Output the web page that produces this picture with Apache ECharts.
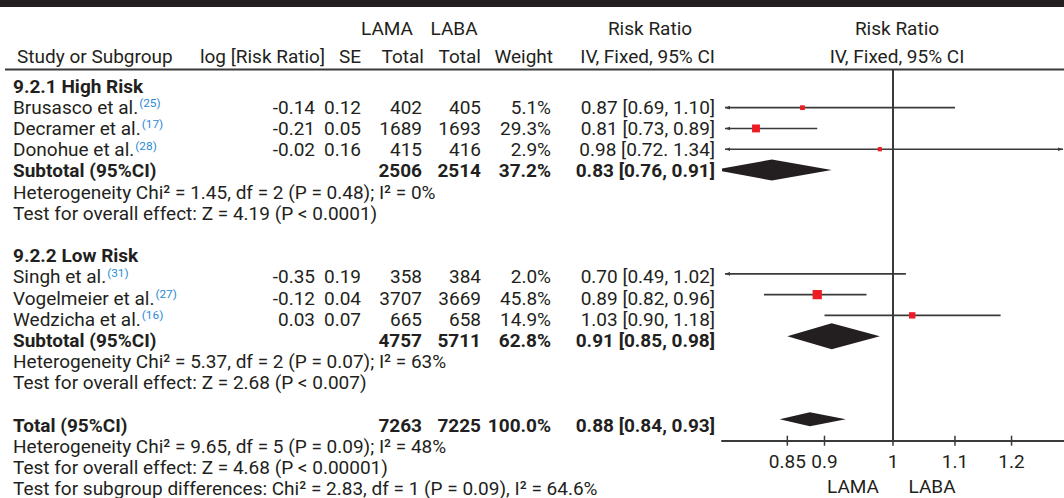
<!DOCTYPE html>
<html><head><meta charset="utf-8">
<script src="https://cdn.jsdelivr.net/npm/echarts@6/dist/echarts.min.js"></script>
<style>html,body{margin:0;padding:0;background:#fff}#c{width:1064px;height:498px}</style>
</head><body><div id="c"></div>
<script>
// ---------------- DATA ----------------
const studyNames = ['Brusasco et al.', 'Decramer et al.', 'Donohue et al.', 'Singh et al.', 'Vogelmeier et al.', 'Wedzicha et al.'];
const studyRefs = ['(25)', '(17)', '(28)', '(31)', '(27)', '(16)'];
const studyGroup = [0, 0, 0, 1, 1, 1];
const logRR = [-0.14, -0.21, -0.02, -0.35, -0.12, 0.03];
const seVals = [0.12, 0.05, 0.16, 0.19, 0.04, 0.07];
const lamaTotals = [402, 1689, 415, 358, 3707, 665];
const labaTotals = [405, 1693, 416, 384, 3669, 658];
const weights = [5.1, 29.3, 2.9, 2.0, 45.8, 14.9];
const riskRatio = [0.87, 0.81, 0.98, 0.70, 0.89, 1.03];
const ciLow = [0.69, 0.73, 0.72, 0.49, 0.82, 0.90];
const ciHigh = [1.10, 0.89, 1.34, 1.02, 0.96, 1.18];
const ciSep = [', ', ', ', '. ', ', ', ', ', ', '];

const groupNames = ['9.2.1 High Risk', '9.2.2 Low Risk'];
const groupLama = [2506, 4757];
const groupLaba = [2514, 5711];
const groupWeight = [37.2, 62.8];
const groupRR = [0.83, 0.91];
const groupLow = [0.76, 0.85];
const groupHigh = [0.91, 0.98];
const groupHet = ['Heterogeneity Chi² = 1.45, df = 2 (P = 0.48); I² = 0%', 'Heterogeneity Chi² = 5.37, df = 2 (P = 0.07); I² = 63%'];
const groupTest = ['Test for overall effect: Z = 4.19 (P < 0.0001)', 'Test for overall effect: Z = 2.68 (P < 0.007)'];

const totalLama = 7263, totalLaba = 7225, totalWeight = 100.0;
const totalRR = 0.88, totalLow = 0.84, totalHigh = 0.93;
const totalHet = 'Heterogeneity Chi² = 9.65, df = 5 (P = 0.09); I² = 48%';
const totalTest = 'Test for overall effect: Z = 4.68 (P < 0.00001)';
const subgroupTest = 'Test for subgroup differences: Chi² = 2.83, df = 1 (P = 0.09), I² = 64.6%';

const tickValues = [0.85, 0.9, 1, 1.1, 1.2];
const favourLabels = ['LAMA', 'LABA'];

// ---------------- STYLE / LAYOUT ----------------
const FF = 'Roboto';
const TEXT = '#231f20';
const LINE = '#3a3a3a';
const RED = '#ed1c24';
const BLUE = '#2a8bd8';
const COL = { name: 13, logrr: 315, se: 361, lama: 422, laba: 481, weight: 551, ci: 715 };
const AX_MIN = -0.263, AX_MAX = 0.263;
const Y_MIN = -0.8137, Y_MAX = 17.034;
const diamondHalf = [10.5, 13, 7];

const mctx = document.createElement('canvas').getContext('2d');
mctx.font = '100px ' + FF;
let FS = 585 / (mctx.measureText(subgroupTest).width / 100);
FS = Math.max(13, Math.min(19, FS));
const fontN = FS.toFixed(2) + 'px ' + FF;
const fontB = 'bold ' + FS.toFixed(2) + 'px ' + FF;
const fontS = (FS * 0.62).toFixed(1) + 'px ' + FF;
function textW(t, f) { mctx.font = f; return mctx.measureText(t).width; }

const f2 = v => v.toFixed(2);
const fmtCI = (rr, lo, hi, sep) => f2(rr) + ' [' + f2(lo) + (sep || ', ') + f2(hi) + ']';

// ---------------- TABLE ROWS ----------------
const tableRows = [];
const studyRow = [], groupRow = [];
let r = 0;
groupNames.forEach((g, gi) => {
  tableRows.push({ row: r++, cells: [{ t: g, x: COL.name, a: 'left', f: fontB }] });
  studyNames.forEach((s, i) => {
    if (studyGroup[i] !== gi) return;
    studyRow[i] = r;
    const w = textW(s, fontN);
    tableRows.push({ row: r++, cells: [
      { t: s, x: COL.name, a: 'left', f: fontN },
      { t: studyRefs[i], x: COL.name, dx: w + 1, dy: -4, a: 'left', f: fontS, c: BLUE },
      { t: f2(logRR[i]), x: COL.logrr, a: 'right', f: fontN },
      { t: f2(seVals[i]), x: COL.se, a: 'right', f: fontN },
      { t: String(lamaTotals[i]), x: COL.lama, a: 'right', f: fontN },
      { t: String(labaTotals[i]), x: COL.laba, a: 'right', f: fontN },
      { t: weights[i].toFixed(1) + '%', x: COL.weight, a: 'right', f: fontN },
      { t: fmtCI(riskRatio[i], ciLow[i], ciHigh[i], ciSep[i]), x: COL.ci, a: 'right', f: fontN }
    ] });
  });
  groupRow[gi] = r;
  tableRows.push({ row: r++, cells: [
    { t: 'Subtotal (95%CI)', x: COL.name, a: 'left', f: fontB },
    { t: String(groupLama[gi]), x: COL.lama, a: 'right', f: fontB },
    { t: String(groupLaba[gi]), x: COL.laba, a: 'right', f: fontB },
    { t: groupWeight[gi].toFixed(1) + '%', x: COL.weight, a: 'right', f: fontB },
    { t: fmtCI(groupRR[gi], groupLow[gi], groupHigh[gi]), x: COL.ci, a: 'right', f: fontB }
  ] });
  tableRows.push({ row: r++, cells: [{ t: groupHet[gi], x: COL.name, a: 'left', f: fontN }] });
  tableRows.push({ row: r++, cells: [{ t: groupTest[gi], x: COL.name, a: 'left', f: fontN }] });
  r++;
});
const totalRow = r;
tableRows.push({ row: r++, cells: [
  { t: 'Total (95%CI)', x: COL.name, a: 'left', f: fontB },
  { t: String(totalLama), x: COL.lama, a: 'right', f: fontB },
  { t: String(totalLaba), x: COL.laba, a: 'right', f: fontB },
  { t: totalWeight.toFixed(1) + '%', x: COL.weight, a: 'right', f: fontB },
  { t: fmtCI(totalRR, totalLow, totalHigh), x: COL.ci, a: 'right', f: fontB }
] });
tableRows.push({ row: r++, cells: [{ t: totalHet, x: COL.name, a: 'left', f: fontN }] });
tableRows.push({ row: r++, cells: [{ t: totalTest, x: COL.name, dy: -0.5, a: 'left', f: fontN }] });
tableRows.push({ row: r++, cells: [{ t: subgroupTest, x: COL.name, dy: -0.8, a: 'left', f: fontN }] });

// ---------------- PLOT DATA ----------------
const studyData = studyNames.map((s, i) => [Math.log(riskRatio[i]), studyRow[i], Math.log(ciLow[i]), Math.log(ciHigh[i]), weights[i]]);
const diamondData = [
  [Math.log(groupRR[0]), groupRow[0], Math.log(groupLow[0]), Math.log(groupHigh[0]), 0],
  [Math.log(groupRR[1]), groupRow[1], Math.log(groupLow[1]), Math.log(groupHigh[1]), 1],
  [Math.log(totalRR), totalRow, Math.log(totalLow), Math.log(totalHigh), 2]
];

// ---------------- CHART ----------------
const chart = echarts.init(document.getElementById('c'), null, { renderer: 'svg' });

const hdr = (t, x, y, align, bold) => ({ type: 'text', x: x, y: y, style: { text: t, align: align, verticalAlign: 'middle', font: (bold ? fontB : fontN), fill: TEXT } });

const option = {
  animation: false,
  grid: [
    { left: 722, width: 342, top: 70, height: 370.7 },
    { left: 0, width: 1064, top: 86, height: 402.8 }
  ],
  xAxis: [
    { gridIndex: 0, type: 'value', min: AX_MIN, max: AX_MAX, position: 'bottom',
      splitLine: { show: false },
      axisLine: { show: true, onZero: false, lineStyle: { color: LINE, width: 2 } },
      axisTick: { show: false },
      axisLabel: { show: true, margin: 11, color: TEXT, fontSize: FS, fontFamily: FF,
        customValues: tickValues.map(v => Math.log(v)),
        formatter: v => String(parseFloat(Math.exp(v).toFixed(2))) } },
    { gridIndex: 1, type: 'value', min: 0, max: 1064, show: false }
  ],
  yAxis: [
    { gridIndex: 0, type: 'value', min: Y_MIN, max: Y_MAX, inverse: true, show: false },
    { gridIndex: 1, type: 'value', min: 0, max: 19, inverse: true, show: false }
  ],
  graphic: [
    { type: 'rect', shape: { x: 0, y: 0, width: 1064, height: 7 }, style: { fill: TEXT } },
    { type: 'line', shape: { x1: 5, y1: 69.5, x2: 1064, y2: 69.5 }, style: { stroke: LINE, lineWidth: 2 } },
    hdr('LAMA', 387, 28, 'center'),
    hdr('LABA', 454, 28, 'center'),
    hdr('Risk Ratio', 650, 28, 'center'),
    hdr('Risk Ratio', 897, 28, 'center'),
    hdr('Study or Subgroup', 17, 56, 'left'),
    hdr('log [Risk Ratio]', 325, 56, 'right'),
    hdr('SE', 361, 56, 'right'),
    hdr('Total', 424, 56, 'right'),
    hdr('Total', 481, 56, 'right'),
    hdr('Weight', 553, 56, 'right'),
    hdr('IV, Fixed, 95% CI', 715, 56, 'right'),
    hdr('IV, Fixed, 95% CI', 897, 56, 'center'),
    hdr(favourLabels[0], 853, 486, 'center'),
    hdr(favourLabels[1], 932, 486, 'center')
  ],
  series: [
    { type: 'custom', name: 'table', xAxisIndex: 1, yAxisIndex: 1, silent: true,
      data: tableRows.map(t => [0, t.row]),
      renderItem: function (params, api) {
        const row = tableRows[params.dataIndex];
        const y = api.coord([0, row.row])[1];
        return { type: 'group', children: row.cells.map(c => ({
          type: 'text',
          style: { text: c.t, x: api.coord([c.x, row.row])[0] + (c.dx || 0), y: y + (c.dy || 0),
            align: c.a, verticalAlign: 'middle', font: c.f, fill: c.c || TEXT }
        })) };
      } },
    { type: 'custom', name: 'ticks', xAxisIndex: 0, yAxisIndex: 0, silent: true,
      data: tickValues.map(v => [Math.log(v)]),
      renderItem: function (params, api) {
        const p = api.coord([api.value(0), Y_MAX]);
        return { type: 'line', shape: { x1: p[0], y1: p[1] - 5, x2: p[0], y2: p[1] + 5 }, style: { stroke: LINE, lineWidth: 1.5 } };
      } },
    { type: 'custom', name: 'studies', xAxisIndex: 0, yAxisIndex: 0, silent: true,
      data: studyData,
      markLine: { silent: true, symbol: 'none', label: { show: false },
        lineStyle: { color: LINE, width: 2, type: 'solid' }, data: [{ xAxis: 0 }] },
      renderItem: function (params, api) {
        const est = api.value(0), row = api.value(1), lo = api.value(2), hi = api.value(3), w = api.value(4);
        const y = api.coord([0, row])[1];
        const xl = api.coord([Math.max(lo, AX_MIN), row])[0];
        const xh = api.coord([Math.min(hi, AX_MAX), row])[0];
        const children = [];
        const leftCut = lo < AX_MIN, rightCut = hi > AX_MAX;
        const lx = leftCut ? xl + 3 : xl, rx = rightCut ? xh - 1 : xh;
        children.push({ type: 'line', shape: { x1: lx, y1: y, x2: rx, y2: y }, style: { stroke: LINE, lineWidth: 1.6 } });
        if (leftCut) children.push({ type: 'polygon', shape: { points: [[lx, y], [lx + 5, y - 1.8], [lx + 5, y + 1.8]] }, style: { fill: LINE } });
        if (rightCut) children.push({ type: 'polygon', shape: { points: [[rx, y], [rx - 5, y - 1.8], [rx - 5, y + 1.8]] }, style: { fill: LINE } });
        if (est >= AX_MIN && est <= AX_MAX) {
          const p = api.coord([est, row]);
          const s = 2.5 + Math.sqrt(w);
          children.push({ type: 'rect', shape: { x: p[0] - s / 2, y: p[1] - s / 2, width: s, height: s }, style: { fill: RED } });
        }
        return { type: 'group', children: children };
      } },
    { type: 'custom', name: 'pooled', xAxisIndex: 0, yAxisIndex: 0, silent: true, clip: true,
      data: diamondData,
      renderItem: function (params, api) {
        const row = api.value(1);
        const c = api.coord([api.value(0), row]);
        const l = api.coord([api.value(2), row]);
        const h = api.coord([api.value(3), row]);
        const hh = diamondHalf[api.value(4)];
        return { type: 'polygon', shape: { points: [[l[0], c[1]], [c[0], c[1] - hh], [h[0], c[1]], [c[0], c[1] + hh]] }, style: { fill: TEXT } };
      } }
  ]
};
chart.setOption(option);
</script>
</body></html>
